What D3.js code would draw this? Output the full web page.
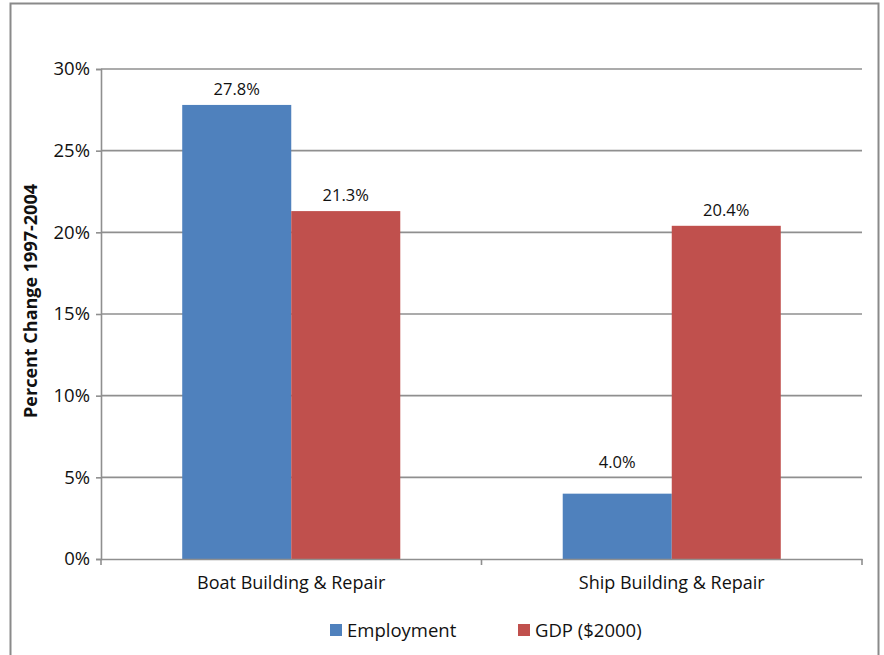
<!DOCTYPE html>
<html>
<head>
<meta charset="utf-8">
<script src="https://cdn.jsdelivr.net/npm/d3@7"></script>
<style>
  body { margin: 0; background: #fff; }
  svg { display: block; font-family: "Open Sans", "Noto Sans", sans-serif; }
</style>
</head>
<body>
<svg id="chart" width="884" height="655"></svg>
<script>
// Percent change 1997-2004 by industry
const categories = ["Boat Building & Repair", "Ship Building & Repair"];
const seriesNames = ["Employment", "GDP ($2000)"];
const employment = [27.8, 4.0];
const gdp = [21.3, 20.4];
const yTicks = [0, 5, 10, 15, 20, 25, 30];
const colors = ["#4F81BD", "#C0504D"];

const seriesValues = [employment, gdp];

const svg = d3.select("#chart");
const W = 884, H = 655;
const m = { left: 101, right: 22, top: 69, bottom: 96 };

// outer frame
svg.append("rect")
  .attr("x", 10.5).attr("y", 3.5)
  .attr("width", 868).attr("height", 680)
  .attr("fill", "none").attr("stroke", "#8a8a8a").attr("stroke-width", 2);

const x0 = d3.scaleBand().domain(categories).range([m.left, W - m.right]).padding(0);
const x1 = d3.scaleBand().domain(seriesNames).range([0, x0.bandwidth()])
  .paddingInner(0).paddingOuter(0.745);
const y = d3.scaleLinear().domain([0, 30]).range([H - m.bottom, m.top]);

// gridlines
svg.append("g").selectAll("line").data(yTicks.filter(d => d > 0)).join("line")
  .attr("x1", m.left).attr("x2", W - m.right)
  .attr("y1", d => y(d)).attr("y2", d => y(d))
  .attr("stroke", "#8f8f8f").attr("stroke-width", 1.6);

// y axis
const yAxis = d3.axisLeft(y).tickValues(yTicks).tickFormat(d => d + "%")
  .tickSize(5).tickPadding(6);
const gy = svg.append("g").attr("transform", `translate(${m.left},0)`).call(yAxis);
gy.select(".domain").attr("stroke", "#8f8f8f").attr("stroke-width", 1.6);
gy.selectAll(".tick line").attr("stroke", "#8f8f8f").attr("stroke-width", 1.6);
gy.selectAll(".tick text").attr("font-size", 18.5).attr("fill", "#111")
  .attr("font-family", "'Open Sans', sans-serif");

// bars
const groups = svg.append("g").selectAll("g").data(categories).join("g")
  .attr("transform", d => `translate(${x0(d)},0)`);

groups.selectAll("rect")
  .data((c, i) => seriesNames.map((s, j) => ({ s, j, v: seriesValues[j][i] })))
  .join("rect")
  .attr("x", d => x1(d.s)).attr("width", x1.bandwidth())
  .attr("y", d => y(d.v)).attr("height", d => y(0) - y(d.v))
  .attr("fill", d => colors[d.j]);

// value labels: sit just above the bar, hopping over a gridline they would cross
const labelBaseline = v => {
  const b = y(v) - 10;
  const crossed = yTicks.find(t => y(t) < y(v) && y(t) > b - 13);
  return crossed !== undefined ? y(crossed) - 9 : b;
};
groups.selectAll("text.val")
  .data((c, i) => seriesNames.map((s, j) => ({ s, j, v: seriesValues[j][i] })))
  .join("text").attr("class", "val")
  .attr("x", d => x1(d.s) + x1.bandwidth() / 2)
  .attr("y", d => labelBaseline(d.v))
  .attr("text-anchor", "middle").attr("font-size", 16.5).attr("fill", "#111")
  .text(d => d.v.toFixed(1) + "%");

// x axis
const xAxis = d3.axisBottom(x0).tickSize(0).tickPadding(17);
const gx = svg.append("g").attr("transform", `translate(0,${y(0)})`).call(xAxis);
gx.select(".domain").attr("stroke", "#8f8f8f").attr("stroke-width", 1.6);
gx.selectAll(".tick text").attr("font-size", 18).attr("fill", "#111")
  .attr("font-family", "'Open Sans', sans-serif");
// category boundary ticks
const bounds = [x0.range()[0], ...categories.map(c => x0(c) + x0.bandwidth())];
gx.selectAll("line.bound").data(bounds).join("line").attr("class", "bound")
  .attr("x1", d => d).attr("x2", d => d).attr("y1", 0).attr("y2", 6)
  .attr("stroke", "#8f8f8f").attr("stroke-width", 1.6);

// y axis title
svg.append("text")
  .attr("transform", `translate(37,${(y(0) + y(30)) / 2 - 13}) rotate(-90)`)
  .attr("text-anchor", "middle").attr("font-size", 18).attr("font-weight", "bold")
  .attr("fill", "#111")
  .text("Percent Change 1997-2004");

// legend
const legendX = [330, 518];
const lg = svg.append("g").selectAll("g").data(seriesNames).join("g")
  .attr("transform", (d, i) => `translate(${legendX[i]},624)`);
lg.append("rect").attr("width", 12).attr("height", 12).attr("fill", (d, i) => colors[i]);
lg.append("text").attr("x", 17).attr("y", 13).attr("font-size", 18.5).attr("fill", "#111")
  .text(d => d);
</script>
</body>
</html>
